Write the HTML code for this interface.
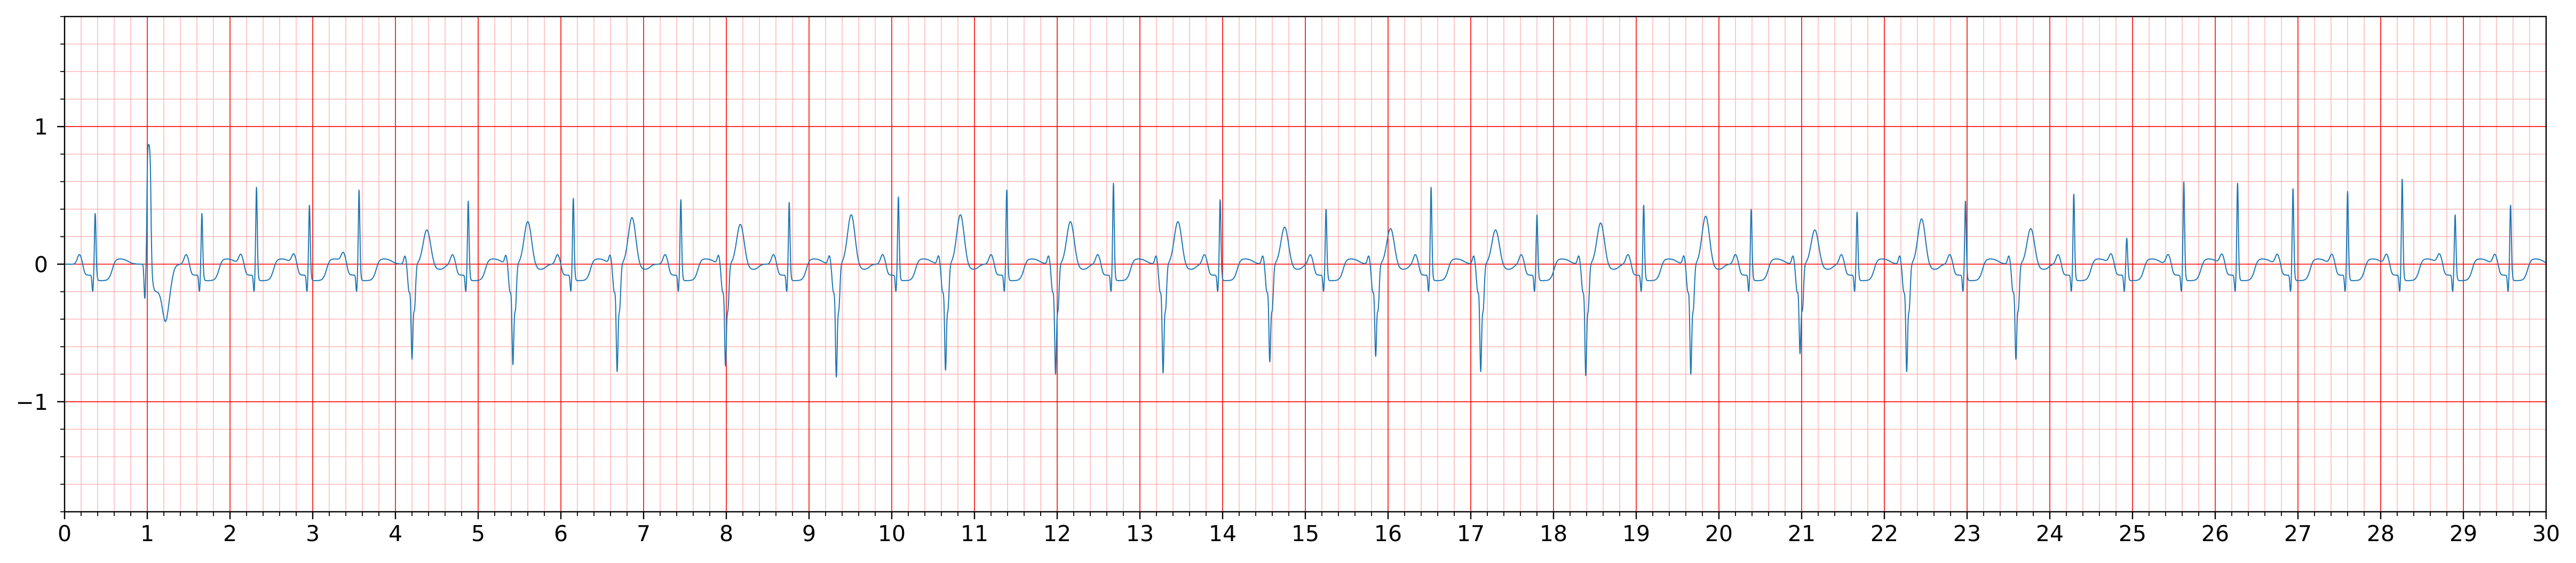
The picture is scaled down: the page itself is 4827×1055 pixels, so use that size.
<!DOCTYPE html>
<html><head><meta charset="utf-8"><style>
html,body{margin:0;padding:0;background:#fff;}
svg{display:block;font-family:"DejaVu Sans","Liberation Sans",sans-serif;}
</style></head><body>
<svg id="chart" width="4827" height="1055" viewBox="0 0 4827 1055" xmlns="http://www.w3.org/2000/svg">
<rect x="0" y="0" width="4827" height="1055" fill="#fff"/>
<g id="minor-grid"></g>
<g id="major-grid"></g>
<path id="trace" fill="none" stroke="#1f77b4" stroke-width="2" stroke-linejoin="round"/>
<rect x="121" y="31" width="4650" height="928" fill="none" stroke="#000" stroke-width="2.4"/>
<g id="xticks"></g>
<g id="yticks"></g>
</svg>
<script>
// Chart data
const xTickLabels = ["0","1","2","3","4","5","6","7","8","9","10","11","12","13","14","15","16","17","18","19","20","21","22","23","24","25","26","27","28","29","30"];
const yTickValues = [-1, 0, 1];
const yTickLabels = ["\u22121", "0", "1"];
// beats: time (s), type (N normal, V wide negative, U wide upright), main deflection amplitude, T-wave amplitude
const beatTimes = [0.37,1.0,1.66,2.32,2.96,3.56,4.2,4.88,5.42,6.15,6.68,7.45,7.99,8.76,9.33,10.08,10.65,11.39,11.98,12.68,13.28,13.97,14.57,15.25,15.85,16.52,17.12,17.8,18.39,19.09,19.66,20.39,20.98,21.67,22.27,22.98,23.59,24.29,24.93,25.62,26.27,26.94,27.6,28.26,28.9,29.57];
const beatTypes = ["N","U","N","N","N","N","V","N","V","N","V","N","V","N","V","N","V","N","V","N","V","N","V","N","V","N","V","N","V","N","V","N","V","N","V","N","V","N","N","N","N","N","N","N","N","N"];
const beatAmps = [0.38,0.88,0.38,0.57,0.44,0.55,-0.65,0.47,-0.69,0.49,-0.74,0.48,-0.7,0.46,-0.78,0.5,-0.73,0.55,-0.76,0.6,-0.75,0.48,-0.67,0.41,-0.63,0.57,-0.74,0.37,-0.77,0.44,-0.76,0.41,-0.61,0.39,-0.74,0.47,-0.65,0.52,0.2,0.61,0.6,0.56,0.54,0.63,0.37,0.44];
const beatTWaves = [0,0,0,0,0,0,0.25,0,0.31,0,0.34,0,0.29,0,0.36,0,0.36,0,0.31,0,0.31,0,0.27,0,0.26,0,0.25,0,0.30,0,0.35,0,0.25,0,0.33,0,0.26,0,0,0,0,0,0,0,0,0];

const X0=121, X1=4771, Y0=31, Y1=959, XMIN=0, XMAX=30, YMIN=-1.8, YMAX=1.8;
function xs(v){return X0+(v-XMIN)/(XMAX-XMIN)*(X1-X0);}
function ys(v){return Y1-(v-YMIN)/(YMAX-YMIN)*(Y1-Y0);}
const NS="http://www.w3.org/2000/svg";
function mk(tag,parent){const e=document.createElementNS(NS,tag);parent.appendChild(e);return e;}

// grid
const gMin=document.getElementById('minor-grid'), gMaj=document.getElementById('major-grid');
for(let i=0;i<=150;i++){
  const v=i*0.2; if(i%5===0) continue;
  const l=mk('line',gMin);
  
  
  l.setAttribute('x1',xs(v));l.setAttribute('x2',xs(v));l.setAttribute('y1',Y0);l.setAttribute('y2',Y1);
  l.setAttribute('stroke','#ffb0b0');l.setAttribute('stroke-width','1.4');
}
for(let i=-9;i<=9;i++){
  if(i%5===0) continue; const v=i*0.2;
  const l=mk('line',gMin);
  
  
  l.setAttribute('x1',X0);l.setAttribute('x2',X1);l.setAttribute('y1',ys(v));l.setAttribute('y2',ys(v));
  l.setAttribute('stroke','#ffb0b0');l.setAttribute('stroke-width','1.4');
}
xTickLabels.forEach((lab,i)=>{
  if(i===0||i===30) return;
  const l=mk('line',gMaj);
  
  
  l.setAttribute('x1',xs(i));l.setAttribute('x2',xs(i));l.setAttribute('y1',Y0);l.setAttribute('y2',Y1);
  l.setAttribute('stroke','#ff0000');l.setAttribute('stroke-width','1.6');
});
yTickValues.forEach(v=>{
  const l=mk('line',gMaj);
  
  
  l.setAttribute('x1',X0);l.setAttribute('x2',X1);l.setAttribute('y1',ys(v));l.setAttribute('y2',ys(v));
  l.setAttribute('stroke','#ff0000');l.setAttribute('stroke-width','1.6');
});

// ticks
const gx=document.getElementById('xticks'), gy=document.getElementById('yticks');
for(let i=0;i<=150;i++){
  const v=i*0.2, major=i%5===0;
  const t=mk('line',gx);
  
  
  t.setAttribute('x1',xs(v));t.setAttribute('x2',xs(v));t.setAttribute('y1',Y1);t.setAttribute('y2',Y1+(major?14:8));
  t.setAttribute('stroke','#000');t.setAttribute('stroke-width',major?'2.4':'1.8');
}
xTickLabels.forEach((lab,i)=>{
  const t=mk('text',gx);
  
  
  t.setAttribute('x',xs(i));t.setAttribute('y',1014);t.setAttribute('text-anchor','middle');
  t.setAttribute('font-size','41');t.setAttribute('fill','#000');t.textContent=lab;
});
for(let i=-9;i<=9;i++){
  const v=i*0.2, major=i%5===0;
  const t=mk('line',gy);
  
  
  t.setAttribute('x1',X0);t.setAttribute('x2',X0-(major?14:8));t.setAttribute('y1',ys(v));t.setAttribute('y2',ys(v));
  t.setAttribute('stroke','#000');t.setAttribute('stroke-width',major?'2.4':'1.8');
}
yTickValues.forEach((v,i)=>{
  const t=mk('text',gy);
  
  
  t.setAttribute('x',90);t.setAttribute('y',ys(v)+15);t.setAttribute('text-anchor','end');
  t.setAttribute('font-size','41');t.setAttribute('fill','#000');t.textContent=yTickLabels[i];
});

// waveform built from beat arrays
function g(x,c,s){const d=(x-c)/s;return Math.exp(-0.5*d*d);}
function sig(z){return 1/(1+Math.exp(-z));}
function value(x){
  let y=0;
  for(let k=0;k<beatTimes.length;k++){
    const t=beatTimes[k], a=beatAmps[k], ty=beatTypes[k], d=x-t;
    if(d<-0.4||d>0.6) continue;
    if(ty==="N"){
      y+=0.07*g(x,t-0.19,0.025);
      y+=-0.08*sig((d+0.14)/0.01)*sig(-(d+0.01)/0.005);
      y+=-0.12*g(x,t-0.03,0.008);
      y+=a*g(x,t,0.0085);
      y+=-0.12*sig((d-0.02)/0.005)*sig((0.2-d)/0.02);
      y+=0.04*sig((d-0.22)/0.015)*sig((0.4-d)/0.03);
    } else if(ty==="V"){
      y+=0.06*g(x,t-0.085,0.015);
      y+=-0.2*g(x,t-0.035,0.016);
      y+=a*g(x,t,0.011);
      y+=-0.32*g(x,t+0.03,0.013);
      y+=beatTWaves[k]*g(x,t+0.18,0.045);
      y+=-0.04*sig((d-0.25)/0.02)*sig((0.4-d)/0.02);
    } else {
      y+=-0.25*g(x,t-0.03,0.009);
      y+=a*sig((d+0.005)/0.004)*sig((0.045-d)/0.005);
      y+=-0.2*sig((d-0.06)/0.01)*sig((0.3-d)/0.02);
      y+=-0.22*g(x,t+0.22,0.035);
    }
  }
  return y;
}
let dstr='';
for(let i=0;i<=15000;i++){
  const x=i*0.002;
  dstr+=(i?'L':'M')+xs(x).toFixed(1)+' '+ys(value(x)).toFixed(1);
}
document.getElementById('trace').setAttribute('d',dstr);
</script>
</body></html>
